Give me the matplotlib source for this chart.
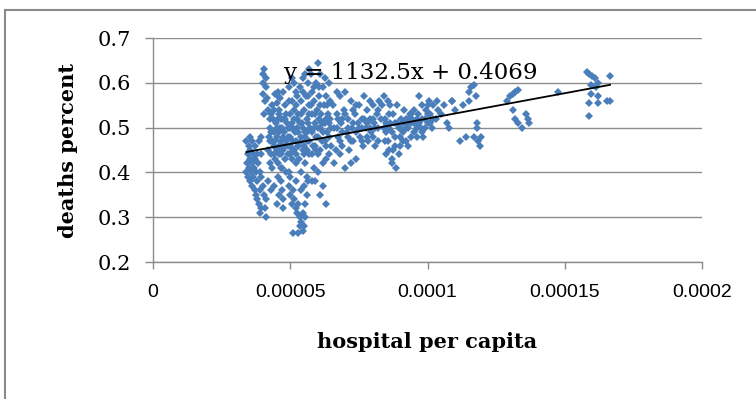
import numpy as np
import matplotlib
matplotlib.use('Agg')
import matplotlib.pyplot as plt
from matplotlib.lines import Line2D

# hospitals per 100k residents, share of deaths -- grouped by region of the cloud
left_strip = [
    (3.40, 0.40), (3.42, 0.42), (3.45, 0.44), (3.45, 0.39), (3.50, 0.41), (3.50, 0.46), (3.52, 0.43),
    (3.55, 0.38), (3.55, 0.45), (3.58, 0.40), (3.60, 0.42), (3.60, 0.47), (3.62, 0.37), (3.65, 0.44),
    (3.65, 0.39), (3.68, 0.41), (3.70, 0.36), (3.70, 0.46), (3.72, 0.43), (3.75, 0.35), (3.75, 0.40),
    (3.78, 0.44), (3.80, 0.34), (3.80, 0.38), (3.82, 0.42), (3.85, 0.33), (3.85, 0.47), (3.88, 0.40),
    (3.90, 0.31), (3.90, 0.36), (3.92, 0.44), (3.95, 0.32), (3.95, 0.48), (3.40, 0.47), (3.55, 0.48),
]
upper_spike = [
    (4.00, 0.62), (4.05, 0.63), (4.12, 0.61), (4.02, 0.60), (4.10, 0.59), (4.00, 0.575), (4.08, 0.56),
    (4.15, 0.565), (4.45, 0.575), (4.55, 0.58), (4.62, 0.565), (4.50, 0.555), (4.20, 0.54), (4.30, 0.53),
    (4.05, 0.53), (4.40, 0.54), (4.60, 0.53), (4.25, 0.52),
]
low_tail = [
    (3.95, 0.39), (4.00, 0.37), (4.05, 0.35), (4.10, 0.34), (4.08, 0.32), (4.12, 0.30), (4.20, 0.38),
    (4.30, 0.36), (4.40, 0.37), (4.55, 0.39), (4.65, 0.38), (4.70, 0.36), (4.72, 0.34), (4.75, 0.32),
    (4.60, 0.35), (4.50, 0.33),
]
body_left = [
    (4.20, 0.45), (4.22, 0.48), (4.25, 0.42), (4.28, 0.50), (4.30, 0.44), (4.32, 0.47), (4.35, 0.41),
    (4.38, 0.52), (4.40, 0.46), (4.42, 0.49), (4.45, 0.43), (4.48, 0.51), (4.50, 0.45), (4.52, 0.48),
    (4.55, 0.42), (4.58, 0.54), (4.60, 0.46), (4.62, 0.50), (4.65, 0.44), (4.68, 0.47), (4.70, 0.41),
    (4.72, 0.52), (4.75, 0.45), (4.78, 0.49), (4.80, 0.43), (4.82, 0.55), (4.85, 0.47), (4.88, 0.51),
    (4.90, 0.44), (4.92, 0.48), (4.95, 0.40), (4.98, 0.53), (5.00, 0.46), (5.02, 0.50), (5.05, 0.43),
    (5.08, 0.56), (5.10, 0.47), (5.12, 0.52), (5.15, 0.45), (5.18, 0.49), (5.20, 0.42), (4.35, 0.55),
    (4.55, 0.57), (4.75, 0.58), (4.95, 0.59), (5.05, 0.61), (5.15, 0.60), (4.85, 0.40), (4.65, 0.41),
    (5.00, 0.39),
]
low_spike = [
    (4.95, 0.37), (5.00, 0.35), (5.05, 0.33), (5.10, 0.36), (5.15, 0.34), (5.20, 0.32), (5.25, 0.31),
    (5.30, 0.33), (5.35, 0.30), (5.40, 0.29), (5.45, 0.31), (5.50, 0.28), (5.35, 0.28), (5.10, 0.265),
    (5.30, 0.265), (5.45, 0.27), (5.55, 0.30), (5.55, 0.33), (5.60, 0.35), (5.50, 0.37), (5.65, 0.38),
    (5.40, 0.36), (5.20, 0.38), (6.30, 0.33), (5.90, 0.38),
]
body_mid = [
    (5.20, 0.58), (5.22, 0.55), (5.25, 0.50), (5.28, 0.46), (5.30, 0.53), (5.32, 0.43), (5.35, 0.59),
    (5.38, 0.48), (5.40, 0.56), (5.42, 0.51), (5.45, 0.45), (5.48, 0.61), (5.50, 0.54), (5.52, 0.49),
    (5.55, 0.42), (5.58, 0.57), (5.60, 0.52), (5.62, 0.47), (5.65, 0.60), (5.68, 0.55), (5.70, 0.44),
    (5.72, 0.50), (5.75, 0.62), (5.78, 0.58), (5.80, 0.53), (5.82, 0.46), (5.85, 0.41), (5.88, 0.56),
    (5.90, 0.51), (5.92, 0.60), (5.95, 0.48), (5.98, 0.54), (6.00, 0.645), (6.02, 0.44), (6.05, 0.57),
    (6.08, 0.50), (6.10, 0.62), (6.12, 0.53), (6.15, 0.47), (6.18, 0.59), (6.20, 0.42), (6.22, 0.55),
    (6.25, 0.51), (6.28, 0.61), (6.30, 0.46), (6.32, 0.57), (6.35, 0.49), (6.38, 0.53), (6.40, 0.60),
    (6.42, 0.44), (6.45, 0.56), (6.48, 0.50), (5.40, 0.40), (5.60, 0.39), (5.80, 0.38), (6.00, 0.40),
    (6.20, 0.37), (6.10, 0.35), (5.70, 0.63), (5.55, 0.62),
    (4.60, 0.49), (4.70, 0.50), (4.80, 0.46), (4.90, 0.50), (5.00, 0.48), (5.10, 0.45), (5.20, 0.47),
    (5.30, 0.49), (5.40, 0.47), (5.50, 0.46), (5.60, 0.49), (5.70, 0.47), (5.80, 0.49), (5.90, 0.46),
    (6.00, 0.48), (6.10, 0.45), (6.20, 0.49), (6.30, 0.52), (6.40, 0.48), (6.50, 0.46), (4.65, 0.52),
    (4.85, 0.53), (5.05, 0.51), (5.25, 0.52), (5.45, 0.50), (5.65, 0.51), (5.85, 0.50), (6.05, 0.52),
    (6.25, 0.47), (6.45, 0.52),
]
dense_core = [
    (4.30, 0.49), (4.40, 0.44), (4.50, 0.50), (4.60, 0.44), (4.70, 0.46), (4.80, 0.52), (4.90, 0.46),
    (5.00, 0.44), (5.10, 0.50), (5.20, 0.44), (5.30, 0.46), (5.40, 0.53), (5.50, 0.44), (5.60, 0.45),
    (5.70, 0.53), (5.80, 0.44), (5.90, 0.53), (6.00, 0.50), (6.10, 0.55), (6.20, 0.51), (6.30, 0.43),
    (6.40, 0.51), (4.45, 0.47), (4.55, 0.52), (4.75, 0.48), (4.95, 0.50), (5.15, 0.54), (5.35, 0.51),
    (5.55, 0.48), (5.75, 0.55), (5.95, 0.45), (6.15, 0.51), (6.35, 0.55), (4.25, 0.47), (4.95, 0.56),
    (5.25, 0.57), (5.45, 0.58), (5.65, 0.57), (5.85, 0.59), (6.05, 0.59),
    (6.70, 0.50), (6.90, 0.52), (7.10, 0.50), (7.30, 0.51), (7.50, 0.50), (7.70, 0.52), (7.90, 0.50),
    (8.10, 0.50), (8.30, 0.52), (8.50, 0.51), (8.70, 0.49), (8.90, 0.51), (9.10, 0.51), (9.30, 0.52),
    (9.50, 0.51), (9.70, 0.51), (9.90, 0.50), (10.10, 0.51), (6.80, 0.47), (7.00, 0.53), (7.20, 0.47),
    (7.40, 0.55), (7.60, 0.47), (7.80, 0.48), (8.00, 0.52), (8.20, 0.54), (8.40, 0.50), (8.60, 0.53),
    (8.80, 0.51), (9.00, 0.48), (9.20, 0.50), (9.40, 0.53), (9.60, 0.52), (9.80, 0.49), (10.00, 0.55),
    (8.55, 0.47), (8.75, 0.45), (8.95, 0.44), (8.65, 0.55), (9.50, 0.54),
]
body_right = [
    (6.55, 0.55), (6.60, 0.50), (6.65, 0.45), (6.70, 0.53), (6.75, 0.48), (6.80, 0.57), (6.85, 0.51),
    (6.90, 0.46), (6.95, 0.54), (7.00, 0.41), (7.05, 0.49), (7.10, 0.52), (7.15, 0.45), (7.20, 0.56),
    (7.25, 0.50), (7.30, 0.47), (7.35, 0.53), (7.40, 0.43), (7.45, 0.51), (7.50, 0.55), (7.55, 0.48),
    (7.60, 0.52), (7.65, 0.46), (7.70, 0.57), (7.75, 0.50), (7.80, 0.54), (7.85, 0.47), (7.90, 0.52),
    (7.95, 0.49), (8.00, 0.55), (8.05, 0.51), (8.10, 0.46), (8.15, 0.53), (8.20, 0.50), (8.25, 0.56),
    (6.60, 0.42), (6.80, 0.44), (7.20, 0.42), (6.70, 0.58), (7.00, 0.58), (6.90, 0.49), (7.10, 0.48),
    (7.40, 0.49), (7.60, 0.50), (7.80, 0.51), (8.00, 0.48), (6.75, 0.52), (7.30, 0.54), (7.90, 0.56),
    (8.20, 0.47),
]
upper_band = [
    (8.35, 0.55), (8.40, 0.57), (8.45, 0.52), (8.50, 0.49), (8.55, 0.56), (8.60, 0.45), (8.65, 0.51),
    (8.70, 0.43), (8.75, 0.53), (8.80, 0.48), (8.85, 0.41), (8.90, 0.55), (8.95, 0.50), (9.00, 0.46),
    (9.05, 0.52), (9.10, 0.49), (9.15, 0.54), (9.20, 0.47), (9.25, 0.51), (9.30, 0.50), (9.35, 0.53),
    (9.40, 0.48), (9.45, 0.52), (9.50, 0.49), (9.55, 0.51), (9.60, 0.48), (9.65, 0.53), (9.70, 0.57),
    (9.75, 0.50), (9.80, 0.55), (9.85, 0.48), (9.90, 0.52), (9.95, 0.54), (10.00, 0.51), (10.05, 0.56),
    (10.10, 0.53), (10.15, 0.50), (10.20, 0.55), (10.30, 0.52), (10.40, 0.54), (10.50, 0.53),
    (10.60, 0.55), (10.70, 0.51), (10.80, 0.50), (10.90, 0.56), (8.50, 0.44), (8.70, 0.42), (8.80, 0.46),
    (9.10, 0.47), (9.30, 0.46), (8.45, 0.47), (8.60, 0.50), (9.00, 0.50), (9.20, 0.52), (9.40, 0.51),
    (9.60, 0.50), (9.80, 0.52), (10.00, 0.53), (10.20, 0.52), (10.35, 0.56),
]
sparse_tail = [
    (10.9, 0.56), (11.0, 0.54), (11.2, 0.47), (11.4, 0.48), (11.5, 0.58), (11.6, 0.59), (11.7, 0.595),
    (11.75, 0.57), (11.8, 0.51), (11.7, 0.48), (11.85, 0.47), (11.9, 0.46), (11.95, 0.48), (11.8, 0.50),
    (11.5, 0.56), (11.3, 0.55),
    (12.9, 0.56), (13.0, 0.57), (13.1, 0.575), (13.2, 0.58), (13.3, 0.585), (13.1, 0.54), (13.2, 0.52),
    (13.3, 0.51), (13.45, 0.50), (13.6, 0.53), (13.65, 0.52), (13.7, 0.51),
    (14.75, 0.58),
    (15.8, 0.625), (15.9, 0.62), (16.0, 0.615), (16.1, 0.61), (16.2, 0.60), (15.95, 0.595), (16.15, 0.59),
    (15.95, 0.575), (15.9, 0.555), (16.2, 0.57), (16.2, 0.555), (16.65, 0.615), (16.55, 0.56),
    (16.65, 0.56), (15.9, 0.525),
]

trend_slope = 1132.5
trend_intercept = 0.4069

y_ticks = [0.2, 0.3, 0.4, 0.5, 0.6, 0.7]
x_ticks = [0, 0.00005, 0.0001, 0.00015, 0.0002]
x_ticklabels = ['0', '0.00005', '0.0001', '0.00015', '0.0002']

clusters = [left_strip, upper_spike, low_tail, body_left, low_spike,
            body_mid, dense_core, body_right, upper_band, sparse_tail]
pts = np.array([p for c in clusters for p in c])
hosp = pts[:, 0] * 1e-5
deaths = pts[:, 1]

grid_col = '#8c8c8c'
serif = 'DejaVu Serif'

fig = plt.figure(figsize=(7.56, 3.99), dpi=100)
ax = fig.add_axes([153 / 756, 1 - 262 / 399, 549 / 756, 224 / 399])

ax.plot(hosp, deaths, linestyle='none', marker='D', markersize=4.1,
        color='#4a7ebb', markeredgewidth=0)

# linear trend over the data range
tx = np.array([hosp.min(), hosp.max()])
ax.plot(tx, trend_slope * tx + trend_intercept, color='black', linewidth=1.3)
ax.text(0.000094, 0.622, 'y = {}x + {}'.format(trend_slope, trend_intercept),
        ha='center', va='center', fontsize=16.5, family=serif)

ax.set_xlim(0, 0.0002)
ax.set_ylim(0.2, 0.7)
ax.set_yticks(y_ticks)
ax.set_yticklabels(['{:.1f}'.format(v) for v in y_ticks], family=serif, fontsize=15)
ax.set_xticks(x_ticks)
ax.set_xticklabels(x_ticklabels, family='Liberation Sans', fontsize=14)

ax.yaxis.grid(True, color=grid_col, linewidth=1.0)
ax.set_axisbelow(True)
for side in ['top', 'right']:
    ax.spines[side].set_visible(False)
for side in ['left', 'bottom']:
    ax.spines[side].set_color(grid_col)
    ax.spines[side].set_linewidth(1.0)
ax.tick_params(axis='y', direction='out', length=6, width=1.0, color=grid_col, pad=10)
ax.tick_params(axis='x', direction='out', length=5, width=1.0, color=grid_col, pad=11)

ax.set_xlabel('hospital per capita', family=serif, fontweight='bold', fontsize=15, labelpad=22)
ax.set_ylabel('deaths percent', family=serif, fontweight='bold', fontsize=15, labelpad=14)

# chart frame, only top and left edges fall inside the image
fig.add_artist(Line2D([5 / 756, 1], [1 - 9.5 / 399] * 2, color='#8a8a8a', linewidth=1.5))
fig.add_artist(Line2D([5 / 756] * 2, [0, 1 - 9.5 / 399], color='#8a8a8a', linewidth=1.5))

fig.savefig('out.png', dpi=100)
